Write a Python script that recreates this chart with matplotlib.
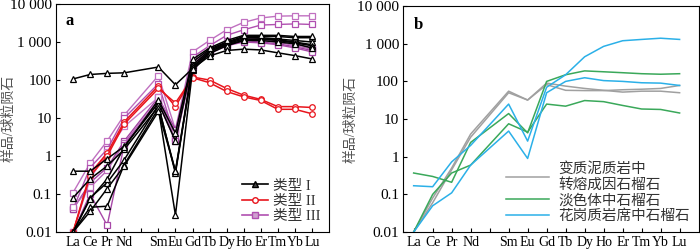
import numpy as np
import matplotlib
matplotlib.use("Agg")
import matplotlib.pyplot as plt
from matplotlib.ticker import FixedLocator, NullLocator

plt.rcParams['font.family'] = ['Liberation Serif', 'Noto Sans CJK SC']

elements = ['La', 'Ce', 'Pr', 'Nd', 'Sm', 'Eu', 'Gd', 'Tb', 'Dy', 'Ho', 'Er', 'Tm', 'Yb', 'Lu']
# Pm is skipped, so Sm starts one slot later
xpos = [0, 1, 2, 3, 5, 6, 7, 8, 9, 10, 11, 12, 13, 14]

# panel a, type I (black)
type1 = [
    [107, 140, 150, 155, 220, 75, 200, 550, 850, 1100, 1200, 1150, 1000, 850],
    [0.4, 0.4, 0.85, 1.8, 25, 2.5, 300, 650, 1000, 1400, 1400, 1400, 1300, 1300],
    [0.08, 0.25, 0.55, 1.5, 20, 0.4, 250, 600, 950, 1300, 1300, 1200, 1100, 1000],
    [0.01, 0.08, 0.2, 0.8, 22, 0.35, 220, 550, 900, 1200, 1200, 1100, 950, 800],
    [0.01, 0.045, 0.048, 0.6, 18, 0.028, 180, 500, 800, 1100, 1100, 1000, 900, 700],
    [0.01, 0.035, 0.14, 0.55, 15, 0.4, 200, 430, 600, 650, 620, 520, 440, 360],
    [0.01, 0.075, 0.25, 1.7, 30, 4, 350, 700, 1100, 1500, 1500, 1500, 1400, 1400],
]
# type II (red)
type2 = [
    [0.01, 0.35, 1.2, 8, 70, 20, 120, 100, 60, 40, 31, 20, 20, 19],
    [0.01, 0.3, 1.0, 7, 60, 25, 115, 85, 50, 36, 29, 17, 17, 13],
]
# type III (purple)
type3 = [
    [0.11, 0.65, 2.5, 12, 130, 5, 550, 1100, 2100, 3300, 4300, 4800, 4900, 4900],
    [0.04, 0.5, 1.5, 10, 80, 3, 400, 800, 1500, 2100, 2800, 2900, 3000, 2900],
    [0.04, 0.2, 0.5, 2.5, 35, 5, 250, 550, 850, 1100, 1000, 900, 750, 600],
    [0.045, 0.15, 0.42, 2.2, 30, 3, 280, 600, 950, 1200, 1100, 1000, 800, 650],
    [0.01, 0.1, 0.015, 2.0, 25, 2.5, 220, 500, 800, 1000, 950, 850, 700, 550],
    [0.01, 0.25, 1.3, 6, 35, 4, 260, 650, 1000, 1300, 1200, 1100, 900, 700],
]

# panel b
pelite = [
    [0.01, 0.08, 0.5, 4, 55, 32, 90, 75, 65, 58, 52, 55, 55, 50],
    [0.01, 0.06, 0.45, 3.3, 50, 32, 82, 58, 57, 57, 60, 62, 65, 78],
]
leucosome = [
    [0.37, 0.3, 0.21, 2.4, 14, 4.3, 100, 150, 190, 180, 170, 160, 155, 160],
    [0.01, 0.1, 0.37, 0.6, 7.5, 4.5, 25, 22, 31, 29, 23, 18.5, 18, 14.5],
]
granitic = [
    [0.17, 0.16, 0.73, 2, 25, 2.6, 70, 150, 450, 850, 1200, 1300, 1400, 1300],
    [0.01, 0.05, 0.11, 0.6, 4.8, 0.9, 50, 100, 125, 105, 100, 92, 90, 78],
]

yticks = [0.01, 0.1, 1, 10, 100, 1000, 10000]
ylabels = ['0.01', '0.1', '1', '10', '100', '1 000', '10 000']


def style_axes(ax, left_lim, label_x):
    ax.set_yscale('log')
    ax.set_ylim(0.01, 10000)
    ax.set_xlim(left_lim, 15)
    ax.yaxis.set_major_locator(FixedLocator(yticks))
    ax.yaxis.set_minor_locator(NullLocator())
    ax.set_yticklabels(ylabels, fontsize=11)
    ax.set_xticks(range(15))
    ax.set_xticklabels(elements[:4] + [''] + elements[4:], fontsize=10)
    ax.tick_params(direction='in', length=3, width=0.8, pad=3)
    ax.set_ylabel('样品/球粒陨石', fontsize=10, color='#555555')
    ax.yaxis.set_label_coords(label_x, 0.5)
    for s in ax.spines.values():
        s.set_linewidth(0.8)


fig = plt.figure(figsize=(7, 2.52), dpi=100)
ax1 = fig.add_axes([0.08, 0.079, 0.39, 0.905])
ax2 = fig.add_axes([0.576, 0.079, 0.422, 0.897])

purples = ['#c070c0', '#b050b0', '#a040a0', '#b868b8', '#a848a8', '#c87cc8']
for i, row in enumerate(type3):
    ax1.plot(xpos, row, color=purples[i], lw=1.0, marker='s', ms=4,
             mfc='white', mec=purples[i], mew=0.9)
for i, row in enumerate(type2):
    ax1.plot(xpos, row, color='#e8141c', lw=1.1, marker='o', ms=4,
             mfc='white', mec='#e8141c', mew=0.9)
for row in type1:
    ax1.plot(xpos, row, color='black', lw=1.1, marker='^', ms=4,
             mfc='white', mec='black', mew=0.9)

h1, = ax1.plot([], [], color='black', lw=1.2, marker='^', ms=4, mfc='#444444', mec='black')
h2, = ax1.plot([], [], color='#e8141c', lw=1.2, marker='o', ms=4, mfc='white', mec='#e8141c')
h3, = ax1.plot([], [], color='#b050b0', lw=1.2, marker='s', ms=4, mfc='#d0a0d0', mec='#b050b0')
ax1.legend([h1, h2, h3], ['类型 I', '类型 II', '类型 III'], loc='lower right',
           frameon=False, fontsize=10.5, handlelength=1.8, handletextpad=0.3,
           labelspacing=0.15, borderaxespad=0.2, labelcolor='#333333')
ax1.text(0.035, 0.925, 'a', transform=ax1.transAxes, fontsize=12, fontweight='bold',
         va='center')
style_axes(ax1, -1, -0.15)

for row in pelite:
    ax2.plot(xpos, row, color='#a0a0a0', lw=1.1)
for row in leucosome:
    ax2.plot(xpos, row, color='#3aa85a', lw=1.1)
for row in granitic:
    ax2.plot(xpos, row, color='#2bb0e8', lw=1.1)

g1, = ax2.plot([], [], color='#a0a0a0', lw=1.1)
g2, = ax2.plot([], [], color='#3aa85a', lw=1.1)
g3, = ax2.plot([], [], color='#2bb0e8', lw=1.1)
ax2.legend([g1, g2, g3], ['变质泥质岩中\n转熔成因石榴石', '淡色体中石榴石', '花岗质岩席中石榴石'],
           loc='lower right', frameon=False, fontsize=10.5, handlelength=3.0,
           handletextpad=0.6, labelspacing=0.15, borderaxespad=0.2, labelcolor='#333333')
ax2.text(0.035, 0.915, 'b', transform=ax2.transAxes, fontsize=12, fontweight='bold',
         va='center')
style_axes(ax2, -0.55, -0.155)

fig.savefig('out.png', dpi=100)
